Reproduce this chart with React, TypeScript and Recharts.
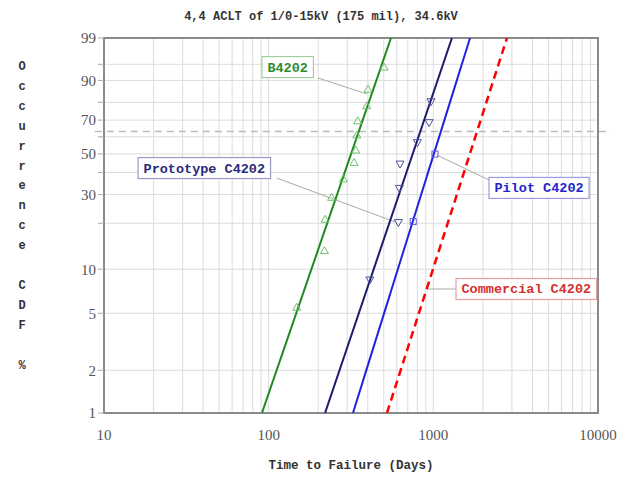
import React from 'react';
import {
  ComposedChart, Line, Scatter, XAxis, YAxis, CartesianGrid,
  ReferenceLine, ReferenceArea, ReferenceDot,
} from 'recharts';

// ---- text ----
const titleText = '4,4 ACLT of 1/0-15kV (175 mil), 34.6kV';
const xAxisTitle = 'Time to Failure (Days)';
const yAxisTitle = 'Occurrence CDF %';

// ---- axes ----
const xGridValues = [10, 20, 30, 40, 50, 60, 70, 80, 90, 100, 200, 300, 400, 500, 600, 700, 800, 900,
  1000, 2000, 3000, 4000, 5000, 6000, 7000, 8000, 9000, 10000];
const xTickLabels = [10, 100, 1000, 10000];
const yGridValues = [1, 2, 5, 10, 20, 30, 40, 50, 60, 70, 80, 90, 95, 99];
const yTickLabels = [1, 2, 5, 10, 30, 50, 70, 90, 99];
const characteristicLife = 63.2;

// ---- series: failure points (days, CDF %) ----
const b4202Days = [148, 218, 220, 241, 284, 330, 338, 343, 347, 394, 401, 502];
const b4202Cdf = [5.5, 13.3, 21.2, 28.9, 36.9, 45.3, 52.2, 61.1, 69.6, 78.2, 86.4, 94.3];
const protoDays = [412, 613, 622, 628, 800, 942, 968];
const protoCdf = [8.45, 20.2, 32.6, 44.4, 56.5, 68.5, 80.3];
const pilotDays = [755, 1023];
const pilotCdf = [20.5, 49.9];

// ---- fitted Weibull lines: endpoints (days at 1% and 99%) ----
const b4202FitDays = [91, 553];
const protoFitDays = [220, 1297];
const pilotFitDays = [325, 1671];
const commercialFitDays = [523, 2800];
const fitCdf = [1, 99];

// ---- annotations ----
const labelNames = ['B4202', 'Prototype C4202', 'Pilot C4202', 'Commercial C4202'];
const labelAnchorDays = [91, 16.1, 2178, 1373];
const labelAnchorCdf = [94.3, 42.3, 32.8, 7.34];
const leaderFromDays = [199, 112, 2178, 915];
const leaderFromCdf = [90.9, 37.3, 36.4, 7.34];
const leaderToDays = [395, 585, 1052, 1373];
const leaderToCdf = [84.2, 20.4, 49.3, 7.34];

// ---- styles ----
const labelText = ['#2e8b2e', '#2b2b7a', '#2424d0', '#d43030'];
const labelBorder = ['#9fcf9f', '#9a9ac0', '#9a9ae8', '#e8a0a0'];
const MONO = '"Liberation Mono", "DejaVu Sans Mono", monospace';
const SERIF = '"Liberation Serif", "DejaVu Serif", serif';

// Weibull probability transform
const wb = (F: number) => Math.log(-Math.log(1 - F / 100));
const fromWb = (v: number) => 100 * (1 - Math.exp(-Math.exp(v)));

const pts = (xs: number[], ys: number[]) => xs.map((x, i) => ({ x, y: wb(ys[i]) }));

const b4202Pts = pts(b4202Days, b4202Cdf);
const protoPts = pts(protoDays, protoCdf);
const pilotPts = pts(pilotDays, pilotCdf);
const b4202Fit = pts(b4202FitDays, fitCdf);
const protoFit = pts(protoFitDays, fitCdf);
const pilotFit = pts(pilotFitDays, fitCdf);
const commercialFit = pts(commercialFitDays, fitCdf);

const TriUp = (p: any) => {
  const { cx, cy } = p;
  return <polygon points={`${cx},${cy - 4} ${cx - 4},${cy + 3} ${cx + 4},${cy + 3}`} fill="none" stroke="#6cc06c" strokeWidth={1} />;
};
const TriDown = (p: any) => {
  const { cx, cy } = p;
  return <polygon points={`${cx - 4},${cy - 3} ${cx + 4},${cy - 3} ${cx},${cy + 4}`} fill="none" stroke="#50509a" strokeWidth={1} />;
};
const Square = (p: any) => {
  const { cx, cy } = p;
  return <rect x={cx - 3} y={cy - 3} width={6} height={6} fill="none" stroke="#5a5ae0" strokeWidth={1} />;
};

const makeLabel = (i: number) => (p: any) => {
  const { cx, cy } = p;
  const w = labelNames[i].length * 8.1 + 11;
  const h = 21;
  return (
    <g>
      <rect x={cx} y={cy - h / 2} width={w} height={h} fill="#fff" stroke={labelBorder[i]} strokeWidth={1.2} />
      <text x={cx + 5.5} y={cy + 4.5} fill={labelText[i]} fontFamily={MONO} fontWeight="bold" fontSize={13.5}>
        {labelNames[i]}
      </text>
    </g>
  );
};

const yTickFmt = (v: number) => {
  const F = Math.round(fromWb(v));
  return yTickLabels.includes(F) ? String(F) : '';
};
const xTickFmt = (v: number) => (xTickLabels.includes(v) ? String(v) : '');

export default function App() {
  return (
    <div style={{ position: 'absolute', left: 0, top: 0, width: 642, height: 478, background: '#fff' }}>
      <ComposedChart width={642} height={478} margin={{ top: 38, right: 44, bottom: 0, left: 0 }}>
        <CartesianGrid stroke="#dcdcdc" strokeWidth={1} />
        <XAxis
          dataKey="x" type="number" scale="log" domain={[10, 10000]} ticks={xGridValues}
          tickFormatter={xTickFmt} allowDataOverflow height={65} tickLine={false} axisLine={false}
          tickMargin={10} interval={0}
          tick={{ fontFamily: SERIF, fontSize: 15, fill: '#555' }}
        />
        <YAxis
          dataKey="y" type="number" domain={[wb(1), wb(99)]} ticks={yGridValues.map(wb)}
          tickFormatter={yTickFmt} allowDataOverflow width={104} interval={0}
          tickLine={{ stroke: '#aaa' }} tickSize={6} axisLine={false}
          tick={{ fontFamily: SERIF, fontSize: 15, fill: '#555' }}
        />
        <ReferenceLine
          segment={[{ x: 8.8, y: wb(characteristicLife) }, { x: 12000, y: wb(characteristicLife) }]}
          stroke="#bbb" strokeWidth={1.5} strokeDasharray="7 5" ifOverflow="visible"
        />
        {labelNames.map((_, i) => (
          <ReferenceLine
            key={'ld' + i}
            segment={[
              { x: leaderFromDays[i], y: wb(leaderFromCdf[i]) },
              { x: leaderToDays[i], y: wb(leaderToCdf[i]) },
            ]}
            stroke="#aaa" strokeWidth={1} ifOverflow="visible"
          />
        ))}
        <Line data={b4202Fit} dataKey="y" stroke="#1e8a1e" strokeWidth={2} dot={false} isAnimationActive={false} />
        <Line data={protoFit} dataKey="y" stroke="#1c1c6e" strokeWidth={2} dot={false} isAnimationActive={false} />
        <Line data={pilotFit} dataKey="y" stroke="#2020e0" strokeWidth={2} dot={false} isAnimationActive={false} />
        <Line data={commercialFit} dataKey="y" stroke="#ff0000" strokeWidth={2.5} strokeDasharray="8 5" dot={false} isAnimationActive={false} />
        <Scatter data={b4202Pts} dataKey="y" shape={TriUp} isAnimationActive={false} />
        <Scatter data={protoPts} dataKey="y" shape={TriDown} isAnimationActive={false} />
        <Scatter data={pilotPts} dataKey="y" shape={Square} isAnimationActive={false} />
        <ReferenceArea x1={10} x2={10000} y1={wb(1)} y2={wb(99)} fill="none" stroke="#8a8a8a" strokeWidth={2} ifOverflow="visible" />
        {labelNames.map((_, i) => (
          <ReferenceDot
            key={'lb' + i}
            x={labelAnchorDays[i]} y={wb(labelAnchorCdf[i])}
            shape={makeLabel(i)} ifOverflow="visible"
          />
        ))}
      </ComposedChart>
      <div style={{
        position: 'absolute', left: 0, width: 642, top: 10, textAlign: 'center',
        fontFamily: MONO, fontWeight: 'bold', fontSize: 12, color: '#333',
      }}>{titleText}</div>
      <div style={{
        position: 'absolute', left: 104, width: 494, top: 459, textAlign: 'center',
        fontFamily: MONO, fontWeight: 'bold', fontSize: 12.5, color: '#333',
      }}>{xAxisTitle}</div>
      {yAxisTitle.split('').map((ch, i) => (
        <div key={i} style={{
          position: 'absolute', left: 12, width: 20, top: 59 + i * 19.9, textAlign: 'center',
          fontFamily: MONO, fontWeight: 'bold', fontSize: 12, color: '#333', lineHeight: '16px',
        }}>{ch}</div>
      ))}
    </div>
  );
}
